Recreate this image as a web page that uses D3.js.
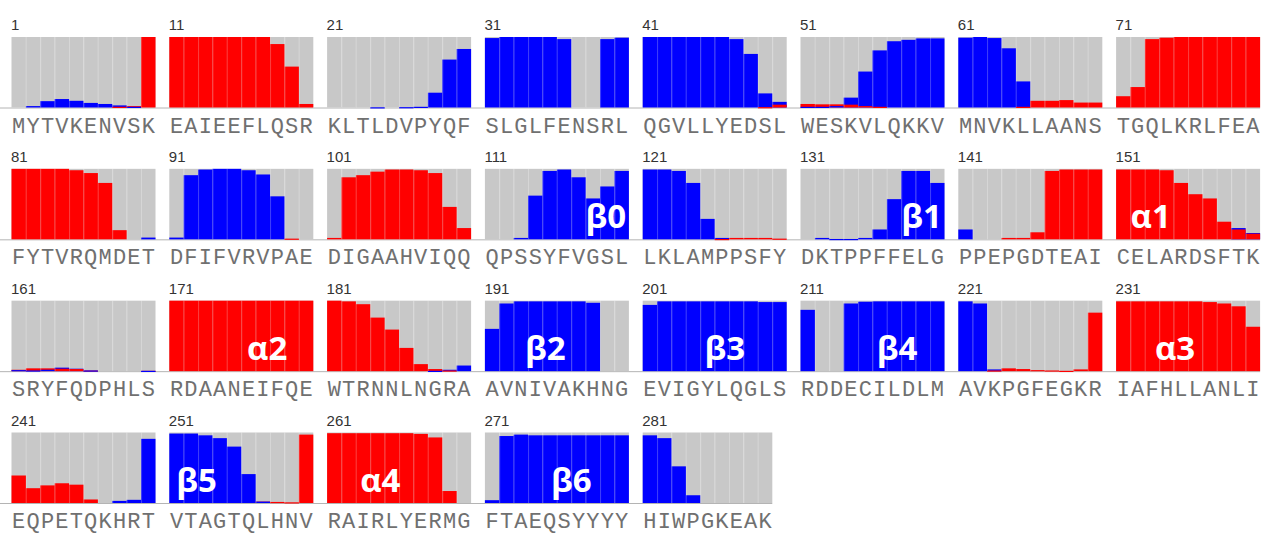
<!DOCTYPE html>
<html>
<head>
<meta charset="utf-8">
<script src="https://cdn.jsdelivr.net/npm/d3@7"></script>
<style>
  html, body { margin: 0; padding: 0; background: #ffffff; }
  svg { display: block; }
</style>
</head>
<body>
<svg id="chart" width="1276" height="539"></svg>
<script>
// ---------------- DATA ----------------
const panelStarts = [1, 11, 21, 31, 41, 51, 61, 71,
                     81, 91, 101, 111, 121, 131, 141, 151,
                     161, 171, 181, 191, 201, 211, 221, 231,
                     241, 251, 261, 271, 281];

const sequenceBlocks = [
  "MYTVKENVSK", "EAIEEFLQSR", "KLTLDVPYQF", "SLGLFENSRL", "QGVLLYEDSL", "WESKVLQKKV", "MNVKLLAANS", "TGQLKRLFEA",
  "FYTVRQMDET", "DFIFVRVPAE", "DIGAAHVIQQ", "QPSSYFVGSL", "LKLAMPPSFY", "DKTPPFFELG", "PPEPGDTEAI", "CELARDSFTK",
  "SRYFQDPHLS", "RDAANEIFQE", "WTRNNLNGRA", "AVNIVAKHNG", "EVIGYLQGLS", "RDDECILDLM", "AVKPGFEGKR", "IAFHLLANLI",
  "EQPETQKHRT", "VTAGTQLHNV", "RAIRLYERMG", "FTAEQSYYYY", "HIWPGKEAK"
];

// helix probability per residue (red)
const helix = [
  0,0,0,0,0,0,0,0.01,0.02,1.0,
  1,1,1,1,1,1,1,0.9,0.58,0.05,
  0,0,0,0,0,0,0,0,0,0,
  0,0,0,0,0,0,0,0,0,0,
  0,0,0,0,0,0,0,0,0.005,0.04,
  0.05,0.045,0.045,0.04,0.02,0.01,0,0,0,0,
  0,0,0,0,0.01,0.095,0.095,0.105,0.07,0.07,
  0.16,0.29,0.97,0.99,1,1,1,1,1,1,
  1,1,1,1,0.98,0.94,0.8,0.13,0,0,
  0,0,0,0,0,0,0,0,0.01,0,
  0.02,0.88,0.91,0.96,0.99,0.99,0.98,0.94,0.46,0.16,
  0,0,0,0,0,0,0,0,0,0,
  0,0,0,0,0,0.005,0.02,0.02,0.02,0.01,
  0,0,0,0,0,0,0,0,0,0,
  0,0,0,0.02,0.02,0.1,0.97,0.99,0.99,0.99,
  0.99,0.99,0.99,0.98,0.8,0.64,0.58,0.25,0.14,0.08,
  0.02,0.04,0.04,0.035,0.03,0.01,0,0,0,0.005,
  1,1,1,1,1,1,1,1,1,1,
  1,0.99,0.95,0.76,0.59,0.33,0.1,0.03,0.01,0,
  0,0,0,0,0,0,0,0,0,0,
  0,0,0,0,0,0,0,0,0,0,
  0,0,0,0,0,0,0,0,0,0,
  0,0,0.01,0.04,0.03,0.015,0.01,0.005,0.025,0.83,
  0.99,0.99,0.99,0.99,0.99,0.99,0.98,0.96,0.92,0.63,
  0.39,0.21,0.25,0.28,0.26,0.05,0,0,0,0,
  0,0,0,0,0,0,0.02,0.015,0.01,0.97,
  0.99,0.99,0.99,0.99,0.99,0.99,0.98,0.93,0.17,0,
  0,0,0,0,0,0,0,0,0,0,
  0,0,0,0,0,0,0,0,0
];

// strand probability per residue (blue)
const strand = [
  0,0.02,0.09,0.12,0.095,0.065,0.05,0.03,0.01,0,
  0,0,0,0,0,0,0,0,0,0,
  0,0,0,0.003,0,0.005,0.01,0.21,0.68,0.83,
  0.985,1,1,1,1,0.97,0,0,0.97,0.99,
  1,1,1,1,1,1,0.97,0.76,0.2,0.08,
  0.01,0.01,0.02,0.14,0.51,0.81,0.94,0.96,0.98,0.98,
  0.99,1,0.985,0.84,0.37,0,0,0,0,0,
  0,0,0,0,0,0,0,0,0,0,
  0,0,0,0,0,0,0,0,0,0.025,
  0.025,0.91,0.99,1,1,0.98,0.92,0.61,0,0,
  0,0,0,0,0,0,0,0,0,0,
  0,0,0.02,0.62,0.97,0.99,0.88,0.58,0.75,0.97,
  0.99,0.99,0.97,0.8,0.29,0.02,0,0,0,0,
  0,0.02,0.005,0.005,0.02,0.14,0.57,0.97,0.97,0.8,
  0.14,0,0,0,0,0,0,0,0,0,
  0,0,0,0,0,0,0,0,0.16,0.09,
  0.015,0.01,0.02,0.05,0.035,0.01,0,0,0,0.005,
  0,0,0,0,0,0,0,0,0,0,
  0,0,0,0,0,0,0,0.005,0.02,0.08,
  0.6,0.96,0.99,0.99,0.99,0.99,0.99,0.97,0,0,
  0.94,0.99,0.99,0.99,0.99,0.99,0.99,0.99,0.98,0.98,
  0.87,0,0,0.96,0.985,0.99,0.99,0.99,0.99,0.99,
  0.99,0.96,0.025,0,0,0,0,0,0,0,
  0,0,0,0,0,0,0,0,0,0,
  0,0,0,0,0,0,0,0.03,0.045,0.91,
  0.985,0.985,0.96,0.92,0.8,0.41,0.02,0,0,0,
  0,0,0,0,0,0,0,0,0,0,
  0.04,0.95,0.97,0.96,0.96,0.96,0.96,0.96,0.96,0.96,
  0.96,0.92,0.52,0.11,0,0,0,0,0
];

// secondary-structure annotations (residue coordinate of label centre)
const ssLabels = ["β0", "β1", "α1", "α2", "β2", "β3", "β4", "α3", "β5", "α4", "β6"];
const ssPositions = [119.4, 139.4, 153.4, 177.8, 195.2, 206.7, 217.7, 235.1, 252.9, 264.7, 277.0];

// ---------------- LAYOUT ----------------
const COLORS = { helix: "#ff0000", strand: "#0000ff", bg: "#c8c8c8" };
const perRow = 8, perPanel = 10;
const panelW = 144, panelH = 70.5;

const svg = d3.select("#chart");

const colX = d3.scaleLinear().domain([0, perRow - 1]).range([11.5, 1116.1]);
const rowY = d3.scaleLinear().domain([0, 3]).range([37, 432.5]);
const xBand = d3.scaleBand().domain(d3.range(perPanel)).range([0, panelW]).padding(0);
const yVal = d3.scaleLinear().domain([0, 1]).range([panelH, 0]);

const residues = [];
sequenceBlocks.forEach((blk, p) => {
  for (let k = 0; k < blk.length; k++) {
    const idx = panelStarts[p] - 1 + k;
    residues.push({ idx, panel: p, k, aa: blk[k], h: helix[idx] || 0, e: strand[idx] || 0 });
  }
});

const panels = panelStarts.map((s, p) => ({
  p, start: s, n: sequenceBlocks[p].length,
  row: Math.floor(p / perRow), col: p % perRow
}));

// Row baselines spanning across panels
const rows = d3.groups(panels, d => d.row);
rows.forEach(([r, ps]) => {
  const last = ps[ps.length - 1];
  svg.append("line")
    .attr("x1", 0)
    .attr("x2", colX(last.col) + xBand.step() * last.n)
    .attr("y1", rowY(r) + panelH + 0.5)
    .attr("y2", rowY(r) + panelH + 0.5)
    .attr("stroke", "#b4b4b4")
    .attr("stroke-width", 1);
});

const pg = svg.selectAll("g.panel").data(panels).join("g")
  .attr("class", "panel")
  .attr("transform", d => `translate(${colX(d.col)},${rowY(d.row)})`);

// number label
pg.append("text")
  .attr("x", -0.5).attr("y", -7)
  .attr("font-family", "'Liberation Sans', Arial, sans-serif")
  .attr("font-size", 15)
  .attr("fill", "#333")
  .text(d => d.start);

pg.each(function (pd) {
  const g = d3.select(this);
  const rs = residues.filter(r => r.panel === pd.p);

  // grey background per residue
  g.selectAll("rect.bg").data(rs).join("rect")
    .attr("class", "bg")
    .attr("x", d => xBand(d.k)).attr("y", 0)
    .attr("width", xBand.bandwidth()).attr("height", panelH)
    .attr("fill", COLORS.bg);

  // coloured bars: larger first, smaller on top
  const bars = [];
  rs.forEach(r => {
    const items = [
      { k: r.k, v: r.h, c: COLORS.helix },
      { k: r.k, v: r.e, c: COLORS.strand }
    ].filter(b => b.v > 0).sort((a, b) => b.v - a.v);
    bars.push(...items);
  });
  g.selectAll("rect.bar").data(bars).join("rect")
    .attr("class", "bar")
    .attr("x", d => xBand(d.k)).attr("y", d => yVal(d.v))
    .attr("width", xBand.bandwidth())
    .attr("height", d => Math.max(1.2, panelH - yVal(d.v)))
    .attr("fill", d => d.c);

  // thin separators between residues
  g.selectAll("line.sep").data(d3.range(1, pd.n)).join("line")
    .attr("class", "sep")
    .attr("x1", d => xBand(d) + 0.5).attr("x2", d => xBand(d) + 0.5)
    .attr("y1", 0).attr("y2", panelH)
    .attr("stroke", "#ffffff").attr("stroke-opacity", 0.2).attr("stroke-width", 1);

  // sequence letters
  g.selectAll("text.aa").data(rs).join("text")
    .attr("class", "aa")
    .attr("x", d => xBand(d.k) + xBand.bandwidth() / 2)
    .attr("y", panelH + 25)
    .attr("text-anchor", "middle")
    .attr("font-family", "'Liberation Mono', 'Courier New', monospace")
    .attr("font-size", 22)
    .attr("fill", "#707070")
    .text(d => d.aa);
});

// secondary structure annotations
ssLabels.forEach((lab, i) => {
  const pos = ssPositions[i];
  const p = panels.findIndex(pp => pos >= pp.start && pos < pp.start + pp.n);
  const pd = panels[p];
  svg.append("text")
    .attr("x", colX(pd.col) + (pos - pd.start) * xBand.step())
    .attr("y", rowY(pd.row) + panelH - 11)
    .attr("text-anchor", "middle")
    .attr("font-family", "'Open Sans', 'Liberation Sans', sans-serif")
    .attr("font-weight", 700)
    .attr("font-size", 33)
    .attr("fill", "#ffffff")
    .text(lab);
});
</script>
</body>
</html>
